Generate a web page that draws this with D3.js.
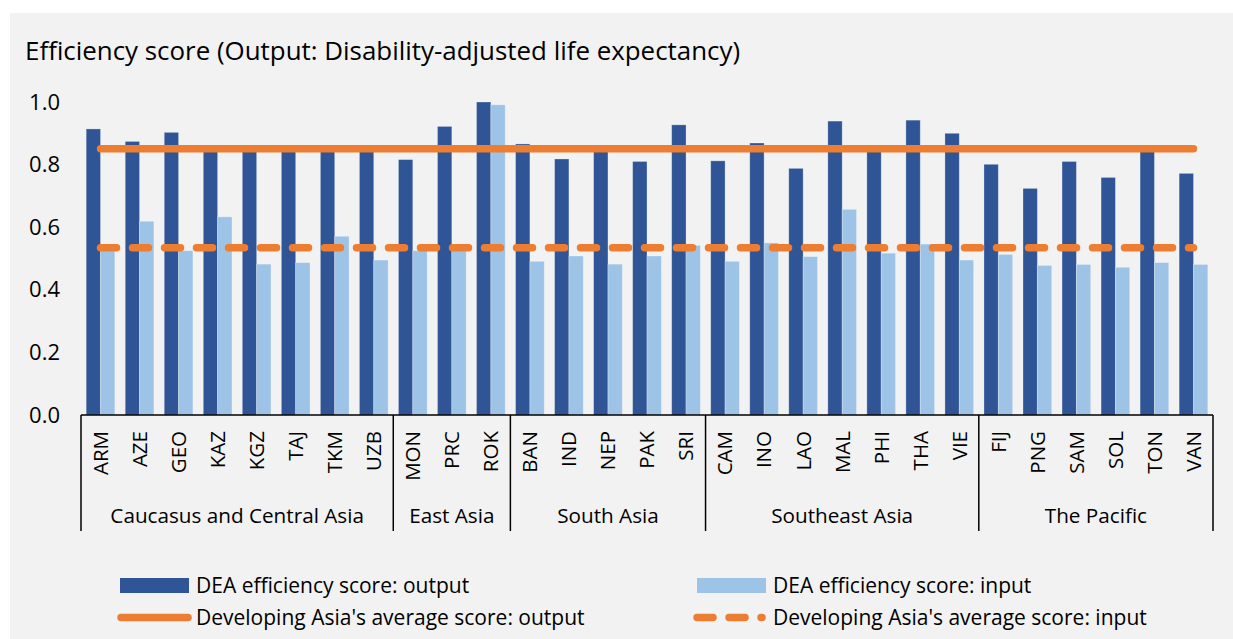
<!DOCTYPE html>
<html>
<head>
<meta charset="utf-8">
<script src="https://cdn.jsdelivr.net/npm/d3@7/dist/d3.min.js"></script>
<style>
  html, body { margin: 0; padding: 0; background: #ffffff; }
  svg { display: block; }
  text { font-family: "Open Sans", "Noto Sans", sans-serif; fill: #000; }
</style>
</head>
<body>
<svg id="chart" width="1233" height="639"></svg>
<script>
// Economies, grouped by subregion
const countries = ["ARM","AZE","GEO","KAZ","KGZ","TAJ","TKM","UZB",
                   "MON","PRC","ROK",
                   "BAN","IND","NEP","PAK","SRI",
                   "CAM","INO","LAO","MAL","PHI","THA","VIE",
                   "FIJ","PNG","SAM","SOL","TON","VAN"];
const regions = ["Caucasus and Central Asia","East Asia","South Asia","Southeast Asia","The Pacific"];
const regionSizes = [8, 3, 5, 7, 6];

// DEA efficiency scores
const outputScores = [0.914,0.874,0.903,0.852,0.848,0.850,0.848,0.850,
                      0.816,0.922,1.000,
                      0.866,0.818,0.852,0.810,0.927,
                      0.812,0.869,0.788,0.939,0.850,0.942,0.900,
                      0.801,0.724,0.810,0.759,0.855,0.772];
const inputScores  = [0.530,0.619,0.525,0.633,0.482,0.487,0.571,0.495,
                      0.525,0.530,0.991,
                      0.491,0.508,0.482,0.508,0.542,
                      0.491,0.550,0.506,0.657,0.517,0.546,0.495,
                      0.513,0.478,0.481,0.472,0.487,0.481];

// Developing Asia averages
const avgOutput = 0.851;
const avgInput = 0.534;

const yTicks = [0, 0.2, 0.4, 0.6, 0.8, 1.0];
const seriesNames = ["DEA efficiency score: output", "DEA efficiency score: input"];
const avgNames = ["Developing Asia's average score: output", "Developing Asia's average score: input"];

const colDark = "#2F5597", colLight = "#9DC3E6", colOrange = "#ED7D31", bg = "#F2F2F2";

const svg = d3.select("#chart");

// panel background
svg.append("rect").attr("x", 10).attr("y", 13).attr("width", 1223).attr("height", 626).attr("fill", bg);

// title
svg.append("text").attr("x", 25).attr("y", 60)
  .style("font-size", "25.9px")
  .text("Efficiency score (Output: Disability-adjusted life expectancy)");

const plotLeft = 81, plotRight = 1213, plotTop = 102, plotBase = 415;

const x = d3.scaleBand().domain(countries).range([plotLeft, plotRight]).paddingInner(0.265).paddingOuter(0.1325);
const xs = d3.scaleBand().domain([0, 1]).range([0, x.bandwidth()]);
const y = d3.scaleLinear().domain([0, 1]).range([plotBase, plotTop]);

// y axis labels (no axis line)
const yAxis = d3.axisLeft(y).tickValues(yTicks).tickFormat(d3.format(".1f")).tickSize(0).tickPadding(0);
const yg = svg.append("g").attr("transform", "translate(60,0)").call(yAxis);
yg.select(".domain").remove();
yg.selectAll("text").style("font-size", "22px").style("font-family", "'Open Sans', sans-serif").attr("fill", "#000");

// bars
const series = [outputScores, inputScores];
const colors = [colDark, colLight];
series.forEach((vals, s) => {
  svg.append("g").selectAll("rect").data(vals).join("rect")
    .attr("x", (d, i) => x(countries[i]) + xs(s))
    .attr("y", d => y(d))
    .attr("width", xs.bandwidth())
    .attr("height", d => plotBase - y(d))
    .attr("fill", colors[s])
    .attr("stroke", "rgba(255,255,255,0.35)")
    .attr("stroke-width", 0.8);
});

// average lines
const xc = c => x(c) + x.bandwidth() / 2;
const first = countries[0], last = countries[countries.length - 1];
svg.append("line")
  .attr("x1", xc(first)).attr("x2", xc(last))
  .attr("y1", y(avgOutput)).attr("y2", y(avgOutput))
  .attr("stroke", colOrange).attr("stroke-width", 7.5).attr("stroke-linecap", "round");
svg.append("line")
  .attr("x1", xc(first)).attr("x2", xc(last))
  .attr("y1", y(avgInput)).attr("y2", y(avgInput))
  .attr("stroke", colOrange).attr("stroke-width", 7.5).attr("stroke-linecap", "round")
  .attr("stroke-dasharray", "16,16");

// x axis baseline
svg.append("line").attr("x1", plotLeft).attr("x2", plotRight).attr("y1", plotBase).attr("y2", plotBase)
  .attr("stroke", "#000").attr("stroke-width", 1.5);

// category labels
const xAxis = d3.axisBottom(x).tickSize(0).tickPadding(0);
const xg = svg.append("g").attr("transform", `translate(0,${plotBase})`).call(xAxis);
xg.select(".domain").remove();
xg.selectAll("text")
  .style("font-size", "20.5px").style("font-family", "'Open Sans', sans-serif").attr("fill", "#000")
  .attr("transform", "rotate(-90)")
  .attr("text-anchor", "end")
  .attr("x", -16).attr("y", 0).attr("dy", "0.36em");

// region brackets and labels
let idx = 0;
const bounds = [plotLeft];
regions.forEach((r, k) => {
  const a = countries[idx], b = countries[idx + regionSizes[k] - 1];
  const x0 = idx === 0 ? plotLeft : x(a) - x.step() * x.paddingInner() / 2;
  idx += regionSizes[k];
  const x1 = idx === countries.length ? plotRight : x(b) + x.bandwidth() + x.step() * x.paddingInner() / 2;
  bounds.push(x1);
  svg.append("text").attr("x", (x0 + x1) / 2).attr("y", 523)
    .attr("text-anchor", "middle").style("font-size", "20.7px").text(r);
});
svg.append("g").selectAll("line").data(bounds).join("line")
  .attr("x1", d => d).attr("x2", d => d).attr("y1", plotBase).attr("y2", 531)
  .attr("stroke", "#000").attr("stroke-width", 1.5);

// legend
const lg = svg.append("g");
const legCols = [119, 696];
const row1 = 585.5, row2 = 617.5;
seriesNames.forEach((n, s) => {
  lg.append("rect").attr("x", legCols[s] + 1).attr("y", row1 - 7.5).attr("width", 69).attr("height", 15).attr("fill", colors[s]);
  lg.append("text").attr("x", legCols[s] + 77).attr("y", row1).attr("dy", "0.35em").style("font-size", "21px").text(n);
});
avgNames.forEach((n, s) => {
  const l = lg.append("line").attr("y1", row2).attr("y2", row2)
    .attr("stroke", colOrange).attr("stroke-width", 7.5).attr("stroke-linecap", "round");
  if (s === 0) {
    l.attr("x1", legCols[s] + 2).attr("x2", legCols[s] + 69);
  } else {
    l.attr("x1", legCols[s] + 1).attr("x2", legCols[s] + 66).attr("stroke-dasharray", "16,16");
  }
  lg.append("text").attr("x", legCols[s] + 77).attr("y", row2).attr("dy", "0.35em").style("font-size", "21px").text(n);
});
</script>
</body>
</html>
